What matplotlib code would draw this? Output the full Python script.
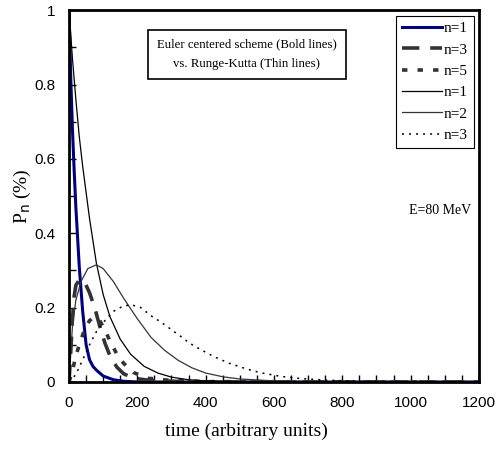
"""Occupation probabilities P_n vs time: Euler centered vs Runge-Kutta."""

import matplotlib.pyplot as plt  # type: ignore
from matplotlib.ticker import MultipleLocator  # type: ignore

# Euler centered scheme (bold lines)
euler_n1_t = [0, 5, 10, 15, 20, 25, 30, 40, 50, 60, 70, 80, 100, 130, 160, 200, 1200]
euler_n1_p = [1.0, 0.82, 0.68, 0.57, 0.47, 0.39, 0.31, 0.19, 0.10, 0.06, 0.042,
              0.032, 0.016, 0.006, 0.002, 0.0, 0.0]

euler_n3_t = [0, 5, 10, 15, 20, 30, 45, 60, 75, 90, 105, 120, 140, 160, 190, 230,
              300, 400, 1200]
euler_n3_p = [0.0, 0.08, 0.17, 0.23, 0.26, 0.275, 0.27, 0.24, 0.2, 0.15, 0.105,
              0.07, 0.04, 0.022, 0.01, 0.005, 0.002, 0.0, 0.0]

euler_n5_t = [0, 10, 20, 30, 45, 60, 75, 90, 105, 120, 140, 160, 190, 230, 300,
              400, 1200]
euler_n5_p = [0.0, 0.03, 0.07, 0.1, 0.14, 0.165, 0.175, 0.165, 0.14, 0.11, 0.075,
              0.05, 0.025, 0.01, 0.004, 0.001, 0.0]

# Runge-Kutta (thin lines)
rk_n1_t = [0, 10, 20, 30, 40, 60, 80, 100, 120, 150, 180, 220, 260, 300, 350,
           400, 500, 1200]
rk_n1_p = [1.0, 0.87, 0.76, 0.66, 0.58, 0.44, 0.32, 0.235, 0.175, 0.115, 0.075,
           0.042, 0.024, 0.013, 0.006, 0.003, 0.001, 0.0]

rk_n2_t = [0, 10, 20, 35, 55, 80, 100, 130, 160, 200, 240, 280, 320, 360, 400,
           450, 500, 600, 700, 1200]
rk_n2_p = [0.0, 0.15, 0.22, 0.27, 0.305, 0.315, 0.305, 0.27, 0.225, 0.17, 0.12,
           0.085, 0.058, 0.038, 0.024, 0.014, 0.008, 0.003, 0.001, 0.0]

rk_n3_t = [0, 20, 40, 60, 80, 100, 130, 160, 185, 210, 242, 264, 286, 305, 325,
           345, 366, 388, 410, 432, 470, 520, 560, 620, 680, 750, 850, 1000, 1200]
rk_n3_p = [0.0, 0.02, 0.06, 0.1, 0.135, 0.16, 0.19, 0.205, 0.207, 0.2, 0.177,
           0.164, 0.15, 0.137, 0.124, 0.11, 0.097, 0.086, 0.075, 0.065, 0.05,
           0.035, 0.025, 0.015, 0.009, 0.005, 0.002, 0.0005, 0.0]

x_ticks = [0, 200, 400, 600, 800, 1000, 1200]
y_ticks = [0, 0.2, 0.4, 0.6, 0.8, 1]

SERIF = "Liberation Serif"
SANS = "Liberation Sans"


def make_chart() -> None:
    fig = plt.figure(figsize=(5.02, 4.63), dpi=100)
    ax = fig.add_axes([0.1375, 0.175, 0.8165, 0.803])

    ax.plot(euler_n1_t, euler_n1_p, color="#000080", lw=2.2, label="n=1")
    ax.plot(euler_n3_t, euler_n3_p, color="#333333", lw=2.6,
            dashes=(4.8, 3), label="n=3")
    ax.plot(euler_n5_t, euler_n5_p, color="#333333", lw=2.6,
            dashes=(1.5, 2.8), label="n=5")
    ax.plot(rk_n1_t, rk_n1_p, color="black", lw=0.9, label="n=1")
    ax.plot(rk_n2_t, rk_n2_p, color="#353535", lw=0.9, label="n=2")
    ax.plot(rk_n3_t, rk_n3_p, color="black", lw=1.1, dashes=(1.3, 3.3),
            label="n=3")

    ax.set_xlim(0, 1200)
    ax.set_ylim(0, 1)
    ax.set_xticks(x_ticks)
    ax.set_yticks(y_ticks)
    ax.set_yticklabels([f"{v:g}" for v in y_ticks])
    ax.xaxis.set_minor_locator(MultipleLocator(50))
    ax.yaxis.set_minor_locator(MultipleLocator(0.1))
    ax.tick_params(which="both", direction="in", length=5, width=1,
                   top=False, right=False, labelsize=11, pad=10)
    for lab in ax.get_xticklabels() + ax.get_yticklabels():
        lab.set_family(SANS)
    for sp in ax.spines.values():
        sp.set_linewidth(2)

    ax.set_xlabel("time (arbitrary units)", family=SERIF, fontsize=14)
    ax.xaxis.set_label_coords(0.432, -0.11)
    ax.set_ylabel(r"P$_{\rm n}$ (%)", family=SERIF, fontsize=14, labelpad=1)

    ax.text(0.434, 0.882,
            "Euler centered scheme (Bold lines)\nvs. Runge-Kutta (Thin lines)",
            transform=ax.transAxes, ha="center", va="center", family=SERIF,
            fontsize=9.2, linespacing=1.8,
            bbox=dict(boxstyle="square,pad=0.7", fc="white", ec="black",
                      lw=1.2))
    ax.text(0.905, 0.462, "E=80 MeV", transform=ax.transAxes, ha="center",
            va="center", family=SERIF, fontsize=10)

    leg = ax.legend(loc="upper right", prop={"family": SERIF, "size": 11},
                    handlelength=2.6, handletextpad=0.1, labelspacing=0.5,
                    borderpad=0.4, borderaxespad=0.35, fancybox=False,
                    framealpha=1, edgecolor="black")
    leg.get_frame().set_linewidth(0.8)

    fig.savefig("out.png", dpi=100)
    plt.close(fig)


if __name__ == "__main__":
    make_chart()
